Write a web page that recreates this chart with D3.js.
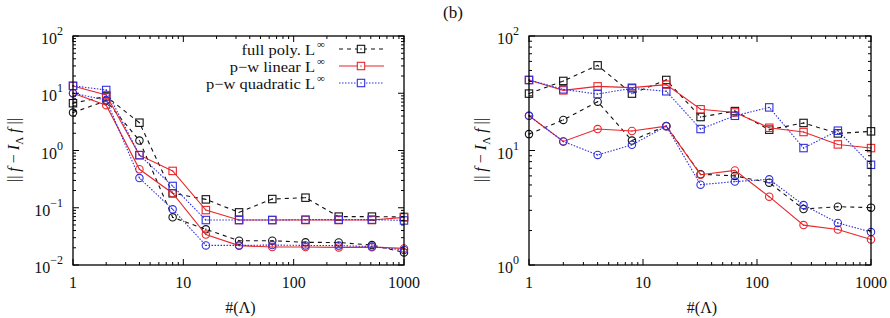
<!DOCTYPE html>
<html>
<head>
<meta charset="utf-8">
<script src="https://cdn.jsdelivr.net/npm/d3@7"></script>
<style>
  body { margin: 0; background: #fff; }
</style>
</head>
<body>
<div id="chart"></div>
<script>
// number of points #(Lambda)
const xs = [1, 2, 4, 8, 16, 32, 64, 128, 256, 512, 1000];

// left panel: squares = L-inf error, circles = second norm
const leftFullSq  = [6.7, 8.8, 3.06, 0.179, 0.140, 0.083, 0.142, 0.150, 0.070, 0.070, 0.069];
const leftLinSq   = [13.4, 9.3, 0.83, 0.44, 0.091, 0.061, 0.061, 0.061, 0.061, 0.061, 0.068];
const leftQuadSq  = [13.5, 11.4, 0.83, 0.24, 0.061, 0.061, 0.061, 0.062, 0.062, 0.062, 0.060];
const leftFullCi  = [4.6, 7.4, 1.49, 0.068, 0.042, 0.0266, 0.0266, 0.0249, 0.0247, 0.0223, 0.0166];
const leftLinCi   = [10, 6.2, 0.47, 0.179, 0.034, 0.0218, 0.0206, 0.0206, 0.0203, 0.0205, 0.0195];
const leftQuadCi  = [10, 7.6, 0.33, 0.094, 0.022, 0.022, 0.0223, 0.022, 0.0218, 0.021, 0.0183];

// right panel (b)
const rightFullSq = [31.4, 40.5, 55.4, 31.4, 41.3, 19.6, 22.1, 15.2, 17.4, 14.1, 14.7];
const rightLinSq  = [41.3, 33.5, 36.3, 35.4, 37.6, 22.9, 21.5, 15.8, 14.5, 11.3, 10.5];
const rightQuadSq = [41.3, 34.2, 31.1, 34.9, 32.9, 15.4, 20.1, 23.8, 10.5, 14.9, 7.5];
const rightFullCi = [13.9, 18.5, 26.7, 12.2, 16.4, 6.2, 6.0, 5.24, 3.08, 3.23, 3.17];
const rightLinCi  = [20.1, 12.0, 15.4, 14.8, 16.3, 6.15, 6.7, 3.95, 2.23, 2.04, 1.67];
const rightQuadCi = [20.1, 12.0, 9.14, 11.2, 16.3, 5.03, 5.35, 5.6, 3.34, 2.33, 1.94];

const legendLabels = ["full poly. L", "p\u2212w linear L", "p\u2212w quadratic L"];
const xTickVals = [1, 10, 100, 1000];

const width = 890, height = 318;

const styles = {
  full: { color: "#111", dash: "4,4" },
  lin:  { color: "#e8262a", dash: null },
  quad: { color: "#3030e0", dash: "1.5,1.5" }
};

const svg = d3.select("#chart").append("svg")
  .attr("width", width)
  .attr("height", height)
  .attr("font-family", "'Liberation Serif', 'Times New Roman', serif")
  .attr("fill", "#111");

function drawPanel(p) {
  const x = d3.scaleLog().domain([1, 1000]).range([p.left, p.right]);
  const y = d3.scaleLog().domain(p.yDomain).range([265, 36]);
  const g = svg.append("g");

  // lines + markers
  p.series.forEach(s => {
    const st = styles[s.kind];
    const line = d3.line().x((d, i) => x(xs[i])).y(d => y(d));
    g.append("path")
      .attr("d", line(s.values))
      .attr("fill", "none")
      .attr("stroke", st.color)
      .attr("stroke-width", 1.1)
      .attr("stroke-dasharray", st.dash);
    const m = g.append("g").selectAll("g")
      .data(s.values).enter().append("g")
      .attr("transform", (d, i) => `translate(${x(xs[i])},${y(d)})`);
    if (s.marker === "sq") {
      m.append("rect").attr("x", -3.7).attr("y", -3.7).attr("width", 7.4).attr("height", 7.4)
        .attr("fill", "none").attr("stroke", st.color).attr("stroke-width", 1.1);
    } else {
      m.append("circle").attr("r", 3.7)
        .attr("fill", "none").attr("stroke", st.color).attr("stroke-width", 1.1);
    }
    m.append("circle").attr("r", 0.7).attr("fill", st.color);
  });

  // frame
  g.append("rect")
    .attr("x", p.left).attr("y", 36)
    .attr("width", p.right - p.left).attr("height", 229)
    .attr("fill", "none").attr("stroke", "#000").attr("stroke-width", 1.3);

  // x ticks (bottom + top, pointing inward)
  const xMinor = [];
  for (let dec = 1; dec < 1000; dec *= 10)
    for (let k = 2; k <= 9; k++) xMinor.push(dec * k);
  [[265, -1], [36, 1]].forEach(([yy, dir]) => {
    g.append("g").selectAll("line").data(xTickVals).enter().append("line")
      .attr("x1", d => x(d)).attr("x2", d => x(d))
      .attr("y1", yy).attr("y2", yy + dir * 6)
      .attr("stroke", "#000");
    g.append("g").selectAll("line").data(xMinor).enter().append("line")
      .attr("x1", d => x(d)).attr("x2", d => x(d))
      .attr("y1", yy).attr("y2", yy + dir * 3)
      .attr("stroke", "#000");
  });
  g.append("g").selectAll("text").data(xTickVals).enter().append("text")
    .attr("x", d => x(d)).attr("y", 288)
    .attr("text-anchor", "middle")
    .attr("font-size", 16)
    .text(d => d);

  // y ticks
  const e0 = Math.log10(p.yDomain[0]), e1 = Math.log10(p.yDomain[1]);
  const yMajor = d3.range(e0, e1 + 1).map(e => Math.pow(10, e));
  const yMinor = [];
  for (let e = e0; e < e1; e++)
    for (let k = 2; k <= 9; k++) yMinor.push(k * Math.pow(10, e));
  [[p.left, 1], [p.right, -1]].forEach(([xx, dir]) => {
    g.append("g").selectAll("line").data(yMajor).enter().append("line")
      .attr("x1", xx).attr("x2", xx + dir * 6)
      .attr("y1", d => y(d)).attr("y2", d => y(d))
      .attr("stroke", "#000");
    g.append("g").selectAll("line").data(yMinor).enter().append("line")
      .attr("x1", xx).attr("x2", xx + dir * 3)
      .attr("y1", d => y(d)).attr("y2", d => y(d))
      .attr("stroke", "#000");
  });
  const yl = g.append("g").selectAll("text").data(yMajor).enter().append("text")
    .attr("x", p.left - 10).attr("y", d => y(d) + 8)
    .attr("text-anchor", "end")
    .attr("font-size", 16);
  yl.append("tspan").text("10");
  yl.append("tspan").attr("dy", -9).attr("font-size", 12)
    .text(d => String(Math.round(Math.log10(d))).replace("-", "\u2212"));

  // axis titles
  g.append("text")
    .attr("x", (p.left + p.right) / 2 + 2).attr("y", 313)
    .attr("text-anchor", "middle").attr("font-size", 16)
    .text("#(\u039B)");
  const yt = g.append("text")
    .attr("transform", `translate(${p.yTitleX},150) rotate(-90)`)
    .attr("text-anchor", "middle").attr("font-size", 16);
  yt.append("tspan").text("|| ");
  yt.append("tspan").attr("font-style", "italic").text("f");
  yt.append("tspan").text(" \u2212 ");
  yt.append("tspan").attr("font-style", "italic").text("I");
  yt.append("tspan").attr("dy", 4).attr("font-size", 11).text("\u039B");
  yt.append("tspan").attr("dy", -4).attr("font-style", "italic").text(" f");
  yt.append("tspan").text(" ||");

  return { x, y, g };
}

drawPanel({
  left: 73, right: 404, yDomain: [1e-2, 1e2], yTitleX: 19,
  series: [
    { kind: "full", marker: "ci", values: leftFullCi },
    { kind: "full", marker: "sq", values: leftFullSq },
    { kind: "lin", marker: "ci", values: leftLinCi },
    { kind: "lin", marker: "sq", values: leftLinSq },
    { kind: "quad", marker: "ci", values: leftQuadCi },
    { kind: "quad", marker: "sq", values: leftQuadSq }
  ]
});

drawPanel({
  left: 529, right: 871, yDomain: [1, 1e2], yTitleX: 486,
  series: [
    { kind: "full", marker: "ci", values: rightFullCi },
    { kind: "full", marker: "sq", values: rightFullSq },
    { kind: "lin", marker: "ci", values: rightLinCi },
    { kind: "lin", marker: "sq", values: rightLinSq },
    { kind: "quad", marker: "ci", values: rightQuadCi },
    { kind: "quad", marker: "sq", values: rightQuadSq }
  ]
});

// legend (left panel)
const leg = svg.append("g");
["full", "lin", "quad"].forEach((k, i) => {
  const yy = 49 + i * 17;
  const st = styles[k];
  leg.append("text")
    .attr("x", 315).attr("y", yy + 6)
    .attr("text-anchor", "end").attr("font-size", 15)
    .attr("transform", `translate(315,0) scale(1.1,1) translate(-315,0)`)
    .text(legendLabels[i]);
  leg.append("text")
    .attr("x", 317).attr("y", yy - 1)
    .attr("font-size", 11)
    .text("\u221E");
  leg.append("line")
    .attr("x1", 339).attr("x2", 384).attr("y1", yy).attr("y2", yy)
    .attr("stroke", st.color).attr("stroke-width", 1.1)
    .attr("stroke-dasharray", st.dash);
  leg.append("rect").attr("x", 357.3).attr("y", yy - 3.7).attr("width", 7.4).attr("height", 7.4)
    .attr("fill", "#fff").attr("stroke", st.color).attr("stroke-width", 1.1);
  leg.append("circle").attr("cx", 361).attr("cy", yy).attr("r", 0.7).attr("fill", st.color);
});

// panel tag
svg.append("text")
  .attr("x", 443).attr("y", 18)
  .attr("font-size", 17)
  .text("(b)");
</script>
</body>
</html>
